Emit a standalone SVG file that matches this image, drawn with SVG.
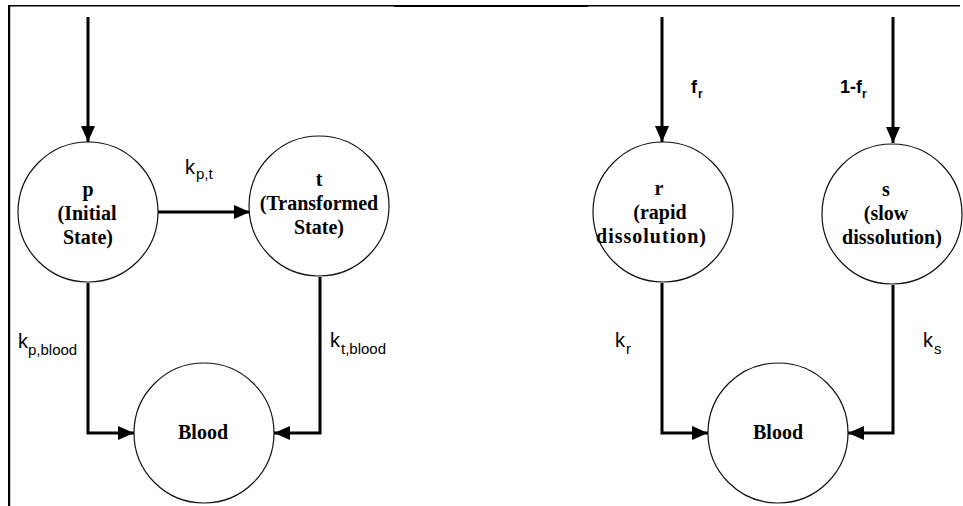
<svg xmlns="http://www.w3.org/2000/svg" width="963" height="506" viewBox="0 0 963 506">
<style>
.node circle{fill:#fff;stroke:#111;stroke-width:1.2}
.nt{font-family:"Liberation Serif","Times New Roman",serif;font-weight:bold;font-size:20px;fill:#000;text-anchor:middle}
.conn{fill:none;stroke:#000;stroke-width:3;marker-end:url(#ah)}
.k{font-family:"Liberation Sans",Arial,sans-serif;font-size:20px;fill:#000}
.ks{font-family:"Liberation Sans",Arial,sans-serif;font-size:15px;fill:#000}
.f{font-family:"Liberation Sans",Arial,sans-serif;font-weight:bold;font-size:18px;fill:#000}
.fs{font-family:"Liberation Sans",Arial,sans-serif;font-weight:bold;font-size:12px;fill:#000}
</style>
<defs>
<marker id="ah" markerUnits="userSpaceOnUse" viewBox="0 0 16 14" markerWidth="16" markerHeight="14" refX="16" refY="7" orient="auto">
<path d="M0,0 L16,7 L0,14 z" fill="#000"/>
</marker>
</defs>
<rect width="963" height="506" fill="#fff"/>
<g id="frame">
<rect x="8" y="5" width="952" height="1.5" fill="#000"/>
<rect x="394" y="5" width="194" height="2" fill="#000"/>
<rect x="8" y="5" width="2.2" height="501" fill="#000"/>
</g>
<g id="connectors">
<path class="conn" d="M88,17 L88,142"/>
<path class="conn" d="M158,212 L250,212"/>
<path class="conn" d="M88,283 L88,433 L134,433"/>
<path class="conn" d="M320,277 L320,433 L274,433"/>
<path class="conn" d="M662,17 L662,142"/>
<path class="conn" d="M893,17 L893,143"/>
<path class="conn" d="M662,283 L662,433 L708,433"/>
<path class="conn" d="M893,285 L893,433 L848,433"/>
</g>
<g id="labels">
<text class="k" x="185" y="174">k</text><text class="ks" x="196" y="179">p,t</text>
<text class="k" x="18" y="348">k</text><text class="ks" x="28" y="355">p,blood</text>
<text class="k" x="330" y="347">k</text><text class="ks" x="341" y="354">t,blood</text>
<text class="k" x="615" y="347">k</text><text class="ks" x="626" y="354">r</text>
<text class="k" x="923" y="347">k</text><text class="ks" x="934" y="354">s</text>
<text class="f" x="691" y="93">f</text><text class="fs" x="698" y="98">r</text>
<text class="f" x="840" y="93">1-f</text><text class="fs" x="862" y="98">r</text>
</g>
<g id="node-p" class="node">
<circle cx="88" cy="212" r="70"/>
<text class="nt" x="88" y="196">p</text>
<text class="nt" x="87" y="220">(Initial</text>
<text class="nt" x="88" y="244">State)</text>
</g>
<g id="node-t" class="node">
<circle cx="319" cy="206" r="70"/>
<text class="nt" x="319" y="186">t</text>
<text class="nt" x="319" y="210">(Transformed</text>
<text class="nt" x="319" y="234">State)</text>
</g>
<g id="node-blood1" class="node">
<circle cx="204" cy="433" r="70"/>
<text class="nt" x="203" y="439">Blood</text>
</g>
<g id="node-r" class="node">
<circle cx="663" cy="212" r="70"/>
<text class="nt" x="659" y="195">r</text>
<text class="nt" x="660" y="219">(rapid</text>
<text class="nt" x="651" y="243" textLength="110" lengthAdjust="spacing">dissolution)</text>
</g>
<g id="node-s" class="node">
<circle cx="892" cy="214" r="70"/>
<text class="nt" x="886" y="196">s</text>
<text class="nt" x="886" y="220">(slow</text>
<text class="nt" x="892" y="244" textLength="100" lengthAdjust="spacing">dissolution)</text>
</g>
<g id="node-blood2" class="node">
<circle cx="778" cy="433" r="70"/>
<text class="nt" x="778" y="439">Blood</text>
</g>
</svg>
